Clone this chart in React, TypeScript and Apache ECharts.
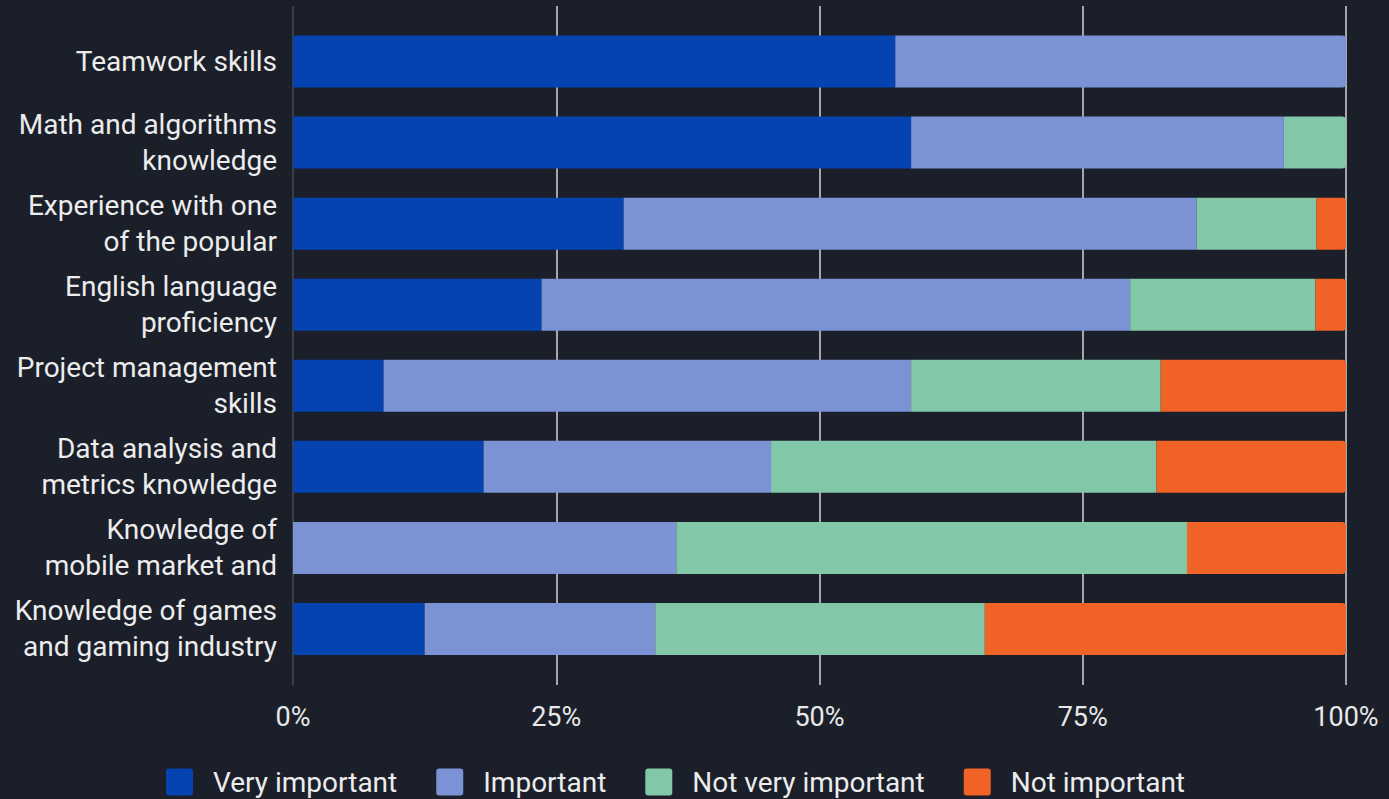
import React, { useEffect, useRef } from "react";
import * as echarts from "echarts";

const categories = [
  "Teamwork skills",
  "Math and algorithms\nknowledge",
  "Experience with one\nof the popular",
  "English language\nproficiency",
  "Project management\nskills",
  "Data analysis and\nmetrics knowledge",
  "Knowledge of\nmobile market and",
  "Knowledge of games\nand gaming industry",
];

const seriesNames = ["Very important", "Important", "Not very important", "Not important"];
const veryImportant = [57.2, 58.7, 31.4, 23.6, 8.6, 18.1, 0, 12.5];
const important = [42.8, 35.4, 54.4, 55.9, 50.1, 27.3, 36.4, 21.9];
const notVeryImportant = [0, 5.9, 11.4, 17.6, 23.7, 36.6, 48.5, 31.3];
const notImportant = [0, 0, 2.8, 2.9, 17.6, 18.0, 15.1, 34.3];
const xTicks = [0, 25, 50, 75, 100];

const colors = ["#0443b0", "#7b93d4", "#82c8a8", "#f06226"];
const BG = "#1b1f2a";
const FONT = "Roboto, 'Noto Sans', sans-serif";
const ICON = "path://M3,0 H24 A3,3 0 0 1 27,3 V24 A3,3 0 0 1 24,27 H3 A3,3 0 0 1 0,24 V3 A3,3 0 0 1 3,0 Z";

export default function App() {
  const ref = useRef<HTMLDivElement>(null);
  useEffect(() => {
    document.body.style.margin = "0";
    document.body.style.background = BG;
    const chart = echarts.init(ref.current!, null, { renderer: "svg" });
    const all = [veryImportant, important, notVeryImportant, notImportant];
    const series = all.map((vals, si) => ({
      name: seriesNames[si],
      type: "bar",
      stack: "total",
      xAxisIndex: 0,
      yAxisIndex: 0,
      barWidth: 52,
      itemStyle: { color: colors[si] },
      data: vals.map((v, j) => {
        const isLast = all.slice(si + 1).every((arr) => arr[j] === 0);
        return {
          value: v,
          itemStyle: { borderRadius: isLast ? [0, 4, 4, 0] : 0 },
        };
      }),
    }));
    chart.setOption({
      animation: false,
      backgroundColor: BG,
      textStyle: { fontFamily: FONT },
      color: colors,
      grid: [
        { left: 293, right: 43, top: 21, bottom: 129.5 },
        { left: 293, right: 43, top: 6, bottom: 114 },
      ],
      xAxis: [
        { type: "value", gridIndex: 0, min: 0, max: 100, show: false },
        {
          type: "value",
          gridIndex: 1,
          min: 0,
          max: 100,
          interval: 25,
          axisLine: { show: false },
          axisTick: { show: false },
          axisLabel: {
            color: "#e8e8e8",
            fontSize: 27,
            fontFamily: FONT,
            margin: 18,
            formatter: (v: number) => (xTicks.includes(v) ? v + "%" : ""),
          },
          splitLine: {
            show: true,
            lineStyle: { color: ["#4a4a4a", "#d6d6d6", "#d6d6d6", "#d6d6d6", "#d6d6d6"], width: 1.5 },
          },
        },
      ],
      yAxis: [
        {
          type: "category",
          gridIndex: 0,
          data: categories,
          inverse: true,
          axisLine: { show: false },
          axisTick: { show: false },
          splitLine: { show: false },
          axisLabel: {
            color: "#ececec",
            fontSize: 28,
            lineHeight: 36,
            fontFamily: FONT,
            margin: 16,
            align: "right",
          },
        },
        {
          type: "value",
          gridIndex: 1,
          min: 0,
          max: 1,
          axisLine: { show: false },
          axisTick: { show: false },
          axisLabel: { show: false },
          splitLine: { show: false },
        },
      ],
      legend: {
        top: 763,
        left: 161,
        icon: ICON,
        itemWidth: 27,
        itemHeight: 27,
        itemGap: 39,
        data: seriesNames,
        textStyle: {
          color: "#ececec",
          fontSize: 28,
          fontFamily: FONT,
          padding: [0, 0, 0, 15],
        },
      },
      series,
    });
    return () => chart.dispose();
  }, []);
  return <div ref={ref} style={{ width: 1389, height: 799, background: BG }} />;
}
